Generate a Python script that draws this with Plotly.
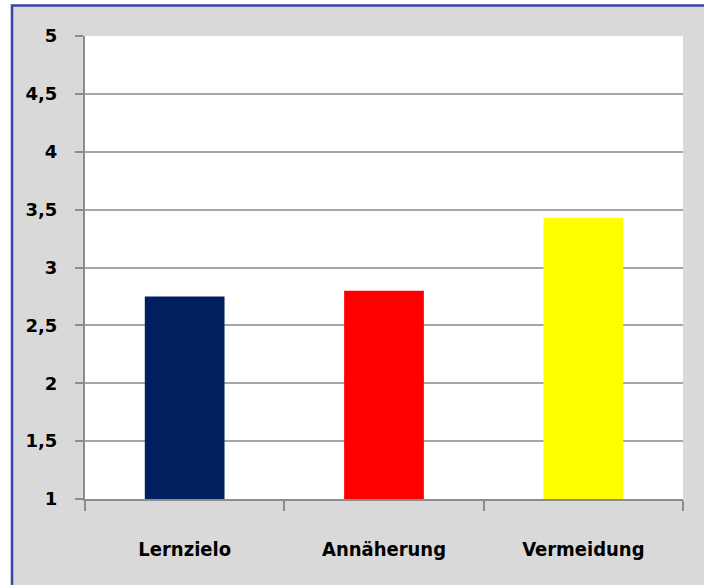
import plotly.graph_objects as go

categories = ["Lernzielo", "Annäherung", "Vermeidung"]
values = [2.75, 2.80, 3.43]
bar_colors = ["#002060", "#ff0000", "#ffff00"]
y_tickvals = [1, 1.5, 2, 2.5, 3, 3.5, 4, 4.5, 5]
y_ticktext = ["1", "1,5", "2", "2,5", "3", "3,5", "4", "4,5", "5"]

W, H = 704, 585
L, R, T, B = 85, 21, 36, 86
pw, ph = W - L - R, H - T - B

def px_x(p):
    return (p - L) / pw

def px_y(p):
    return (H - B - p) / ph

fig = go.Figure()
fig.add_trace(go.Bar(
    x=categories, y=values, marker_color=bar_colors,
    marker_line_width=0, width=0.4, base=0,
))

fig.update_layout(
    width=W, height=H,
    margin=dict(l=L, r=R, t=T, b=B),
    paper_bgcolor="white",
    plot_bgcolor="white",
    showlegend=False,
    separators=",.",
    font=dict(family="DejaVu Sans", color="#000000"),
    shapes=[
        dict(type="rect", xref="paper", yref="paper",
             x0=px_x(12), x1=px_x(760), y0=px_y(640), y1=px_y(5.5),
             fillcolor="#d9d9d9", line=dict(color="#3b44a8", width=2.5),
             layer="below"),
        dict(type="rect", xref="paper", yref="paper",
             x0=0, x1=1, y0=0, y1=1,
             fillcolor="white", line=dict(width=0), layer="below"),
    ],
)

fig.update_xaxes(
    type="category",
    tickson="boundaries",
    ticks="outside", ticklen=10, tickcolor="#8c8c8c", tickwidth=1.5,
    showline=True, linecolor="#8c8c8c", linewidth=2,
    showgrid=False,
    tickfont=dict(family="Liberation Sans Narrow, DejaVu Sans Condensed", size=20,
                  color="#000000", weight="bold"),
    ticklabelstandoff=31,
)
fig.update_yaxes(
    range=[1, 5],
    tickvals=y_tickvals, ticktext=y_ticktext,
    ticks="outside", ticklen=8, tickcolor="#8c8c8c", tickwidth=1.5,
    showline=True, linecolor="#8c8c8c", linewidth=2,
    showgrid=True, gridcolor="#a6a6a6", gridwidth=2,
    zeroline=False,
    tickfont=dict(family="DejaVu Sans", size=18, color="#000000", weight="bold"),
    ticklabelstandoff=14,
)

fig.write_html("out.html", config={"displayModeBar": False},
               post_script="document.body.style.margin='0';")
